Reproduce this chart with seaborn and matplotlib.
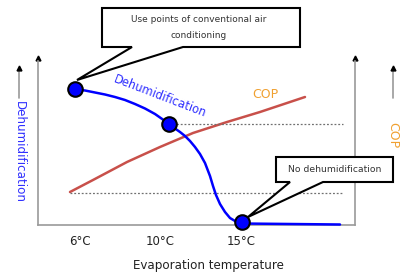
import matplotlib
matplotlib.use("Agg")
import matplotlib.pyplot as plt
import seaborn as sns
from matplotlib.patches import Polygon
from matplotlib.lines import Line2D

# positions on an arbitrary (non-linear) evaporation-temperature axis, heights in relative units
dehum_x = [37, 47, 57, 67, 77, 87, 97, 107, 117, 122, 127, 131, 137, 142, 147, 152, 157,
           162, 167, 172, 175, 178, 182, 187, 192, 197, 203, 302]
dehum_y = [136, 134.5, 132.5, 130.5, 128, 125, 121, 116.5, 111, 107.5, 104, 101, 96.5, 93, 89,
           84, 78, 71, 62, 49, 39, 30, 21, 13, 7, 4, 1.5, 0.5]

cop_x = [32, 55, 89, 122, 155, 189, 222, 267]
cop_y = [33, 45, 63, 78, 92, 103, 113, 128]

point_x = [37, 131, 204]
point_y = [136, 101, 3]

ref_hi = 101
ref_lo = 32
ref_x = [32, 305]

tick_pos = [42, 122, 203]
tick_labels = ["6°C", "10°C", "15°C"]

sns.set_style("white")
plt.rcParams["font.family"] = ["DejaVu Sans"]

fig = plt.figure(figsize=(4, 2.74), dpi=100)
W, H = 400, 274
ax = fig.add_axes([38 / W, 1 - 225 / H, 317 / W, 167 / H])

sns.lineplot(x=cop_x, y=cop_y, ax=ax, color="#c8504a", lw=1.8, estimator=None, sort=False)
ax.plot([131, ref_x[1]], [ref_hi, ref_hi], ls=(0, (1.5, 1.5)), color="#707070", lw=0.9)
ax.plot(ref_x, [ref_lo, ref_lo], ls=(0, (1.5, 1.5)), color="#707070", lw=0.9)
sns.lineplot(x=dehum_x, y=dehum_y, ax=ax, color="#0000ff", lw=1.8, estimator=None,
             sort=False, zorder=4, clip_on=False)
sns.scatterplot(x=point_x, y=point_y, ax=ax, color="#0000ff", edgecolor="black",
                linewidth=1.5, s=110, zorder=5, clip_on=False)

ax.set_xlim(0, 317)
ax.set_ylim(0, 167)
ax.set_xticks(tick_pos)
ax.set_xticklabels(tick_labels, fontsize=8.5, color="#222222")
ax.tick_params(axis="x", length=0, pad=7)
ax.set_yticks([])
ax.spines["top"].set_visible(False)
for s in ["left", "right", "bottom"]:
    ax.spines[s].set_color("#9a9a9a")
    ax.spines[s].set_linewidth(1.2)
ax.spines["left"].set_bounds(0, 164)
ax.spines["right"].set_bounds(0, 164)
for xa in [0, 1]:
    ax.plot([xa], [1], marker="^", ms=3.5, color="black", transform=ax.transAxes, clip_on=False)

ax.text(160 - 38, 225 - 96, "Dehumidification", color="#3030ff", fontsize=8.3,
        rotation=-21, ha="center", va="center", rotation_mode="anchor")
ax.text(265 - 38, 225 - 94, "COP", color="#f0a030", fontsize=9, ha="center", va="center")


def fx(px):
    return px / W


def fy(py):
    return 1 - py / H


# outer axis arrows
for x in [19, 393]:
    fig.add_artist(Line2D([fx(x), fx(x)], [fy(98), fy(70)], color="#9a9a9a", lw=1.2))
    fig.add_artist(Line2D([fx(x)], [fy(68)], marker="^", ms=3.5, color="black"))
fig.text(fx(19), fy(152), "Dehumidification", color="#3030ff", fontsize=8.6,
         rotation=-90, ha="center", va="center")
fig.text(fx(393), fy(135), "COP", color="#f0a030", fontsize=9,
         rotation=-90, ha="center", va="center")

fig.text(fx(208), fy(265), "Evaporation temperature", fontsize=8.6, color="#222222",
         ha="center", va="center")


def callout(pts, z=3):
    fig.add_artist(Polygon([(fx(x), fy(y)) for x, y in pts], closed=True,
                           facecolor="white", edgecolor="black", lw=1.5, zorder=z))


callout([(102, 8), (300, 8), (300, 47), (183, 47), (77, 80), (132, 47), (102, 47)])
fig.text(fx(199), fy(20), "Use points of conventional air", fontsize=6.5, color="#333333",
         ha="center", va="center", zorder=5)
fig.text(fx(199), fy(35), "conditioning", fontsize=6.5, color="#333333",
         ha="center", va="center", zorder=5)

callout([(276, 157), (393, 157), (393, 182), (323, 182), (248, 217), (290, 182), (276, 182)])
fig.text(fx(335), fy(170), "No dehumidification", fontsize=6.7, color="#333333",
         ha="center", va="center", zorder=5)

fig.savefig("out.png", dpi=100)
